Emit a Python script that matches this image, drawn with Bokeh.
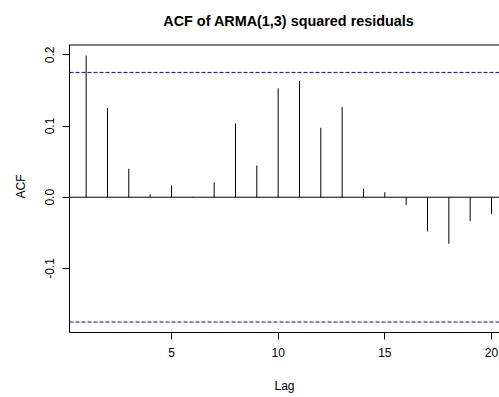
from bokeh.plotting import figure
from bokeh.layouts import column
from bokeh.models import Span, Label, LinearAxis, Range1d, FixedTicker
from bokeh.embed import file_html
from bokeh.resources import INLINE

# ---- data ----
lags = [1, 2, 3, 4, 5, 6, 7, 8, 9, 10, 11, 12, 13, 14, 15, 16, 17, 18, 19, 20]
acf_vals = [0.199, 0.1255, 0.040, 0.004, 0.0165, 0.0005, 0.021, 0.1035, 0.0445, 0.153,
            0.1635, 0.0975, 0.1265, 0.0118, 0.007, -0.0107, -0.048, -0.0655, -0.0337, -0.0233]
conf_bound = 0.1753
x_ticks = [5, 10, 15, 20]
y_ticks = [-0.1, 0.0, 0.1, 0.2]
title_text = "ACF of ARMA(1,3) squared residuals"
x_label = "Lag"
y_label = "ACF"

FONT = "Liberation Sans"

x_start, x_end = 0.22, 20.375
y_lo, y_hi = -0.190, 0.2145
box_px = 288
k = (y_hi - y_lo) / box_px
head = 40  # height of the title strip

xr = Range1d(x_start, x_end)

# ---- title strip ----
t = figure(frame_width=430, frame_height=head,
           min_border_left=69, min_border_right=0, min_border_top=0, min_border_bottom=0,
           x_range=xr, y_range=Range1d(0, head),
           output_backend="svg", toolbar_location=None, tools="",
           x_axis_location=None, y_axis_location=None)
t.title = None
t.outline_line_color = None
t.grid.visible = False
t.add_layout(Label(x=10.5, y=head - 20, text=title_text,
                   text_font=FONT, text_font_size="14.4px", text_font_style="bold",
                   text_align="center", text_baseline="alphabetic", text_color="black"))

# ---- main plot ----
p = figure(frame_width=430, frame_height=box_px + 4,
           min_border_left=69, min_border_right=0, min_border_top=0, min_border_bottom=65,
           x_range=xr, y_range=Range1d(y_lo, y_hi + 4 * k),
           output_backend="svg", toolbar_location=None, tools="",
           x_axis_location=None, y_axis_location=None)
p.title = None
p.outline_line_color = None
p.grid.visible = False
p.background_fill_color = "white"
p.border_fill_color = "white"

def style_axis(ax):
    ax.axis_line_color = "black"
    ax.axis_line_width = 1
    ax.major_tick_line_color = "black"
    ax.major_tick_in = 0
    ax.major_tick_out = 7
    ax.minor_tick_line_color = None
    ax.major_label_text_font = FONT
    ax.major_label_text_font_size = "12px"
    ax.major_label_text_color = "black"
    ax.axis_label_text_font = FONT
    ax.axis_label_text_font_size = "12px"
    ax.axis_label_text_font_style = "normal"
    ax.axis_label_text_color = "black"

xa = LinearAxis(ticker=FixedTicker(ticks=x_ticks), axis_label=x_label)
style_axis(xa)
xa.major_label_standoff = 8
xa.axis_label_standoff = 19
p.add_layout(xa, "below")

ya = LinearAxis(ticker=FixedTicker(ticks=y_ticks), axis_label=y_label, bounds=(y_lo, y_hi))
style_axis(ya)
ya.major_label_orientation = "vertical"
ya.major_label_standoff = 8
ya.axis_label_standoff = 15
ya.major_label_overrides = {-0.1: "-0.1", 0.0: "0.0", 0.1: "0.1", 0.2: "0.2"}
p.add_layout(ya, "left")

# top edge of the box (half-pixel aligned so it renders crisp)
p.line(x=[x_start, x_end], y=[y_hi - 0.5 * k, y_hi - 0.5 * k], line_color="black", line_width=1)

p.segment(x0=lags, y0=[0] * len(lags), x1=lags, y1=acf_vals,
          line_color="black", line_width=1)

p.add_layout(Span(location=0, dimension="width", line_color="black", line_width=1))
for b in (conf_bound, -conf_bound):
    p.add_layout(Span(location=b, dimension="width", line_color="#0000FF",
                      line_width=1, line_dash="4 2"))

layout = column(t, p, spacing=0)
open("out.html", "w").write(file_html(layout, INLINE))
